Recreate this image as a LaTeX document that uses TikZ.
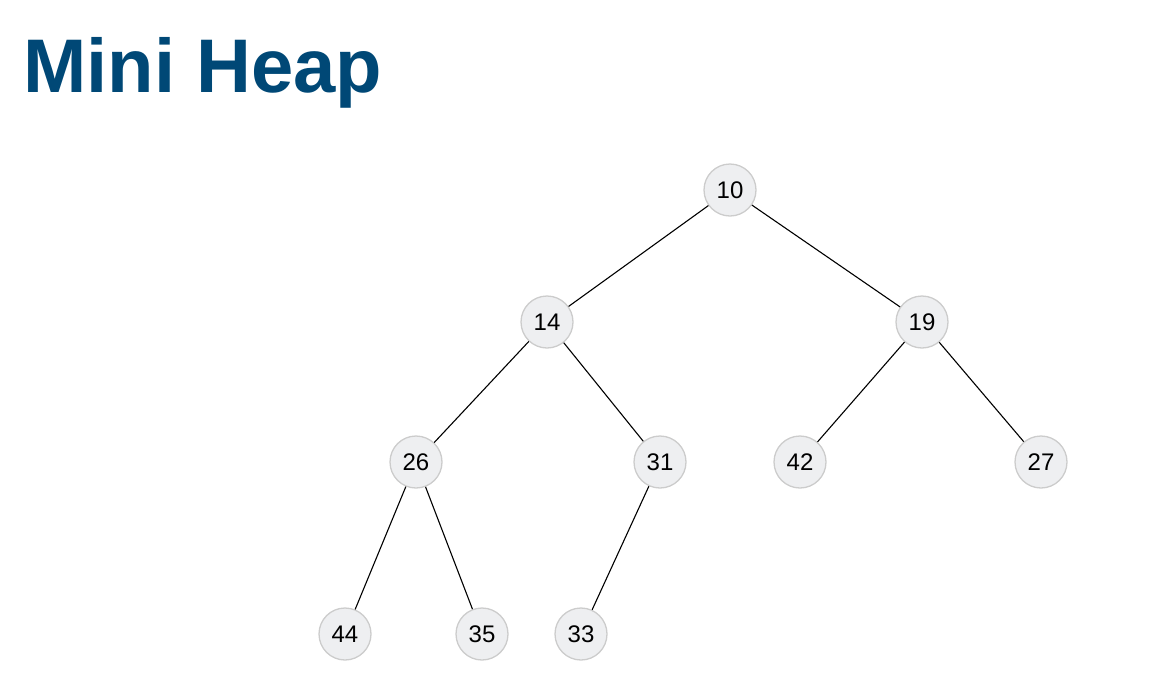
\documentclass[tikz,border=0pt]{standalone}
\usepackage{fontspec}
\setmainfont{Liberation Sans}
\usepackage{tikz}
\usetikzlibrary{positioning}
\usepackage{xcolor}
\definecolor{meuazul}{RGB}{0,72,118}
\definecolor{cinzafundo}{RGB}{238,239,241}
\definecolor{cinzaborda}{RGB}{204,204,204}

\begin{document}
\begin{tikzpicture}[x=1pt, y=-1pt,
        chave/.style={circle, draw=cinzaborda, line width=1.3pt, fill=cinzafundo, minimum size=52pt, inner sep=0pt, font=\fontsize{24}{26}\selectfont},
        ligacao/.style={draw=black, line width=1.1pt}
    ]
        \useasboundingbox (0,0) rectangle (1152,678);
        \node[anchor=base west, inner sep=0pt, text=meuazul, font=\fontsize{76}{82}\selectfont\bfseries] (titulo) at (23,92) {Mini Heap};

        \node[chave] (n10) at (730,190) {10};
        \node[chave] (n14) at (547,322) {14};
        \node[chave] (n19) at (922,322) {19};
        \node[chave] (n26) at (416,462) {26};
        \node[chave] (n31) at (660,462) {31};
        \node[chave] (n42) at (800,462) {42};
        \node[chave] (n27) at (1041,462) {27};
        \node[chave] (n44) at (345,634) {44};
        \node[chave] (n35) at (482,634) {35};
        \node[chave] (n33) at (581,634) {33};

        \draw[ligacao] (n10) -- (n14);
        \draw[ligacao] (n10) -- (n19);
        \draw[ligacao] (n14) -- (n26);
        \draw[ligacao] (n14) -- (n31);
        \draw[ligacao] (n19) -- (n42);
        \draw[ligacao] (n19) -- (n27);
        \draw[ligacao] (n26) -- (n44);
        \draw[ligacao] (n26) -- (n35);
        \draw[ligacao] (n31) -- (n33);

    \end{tikzpicture}
\end{document}
